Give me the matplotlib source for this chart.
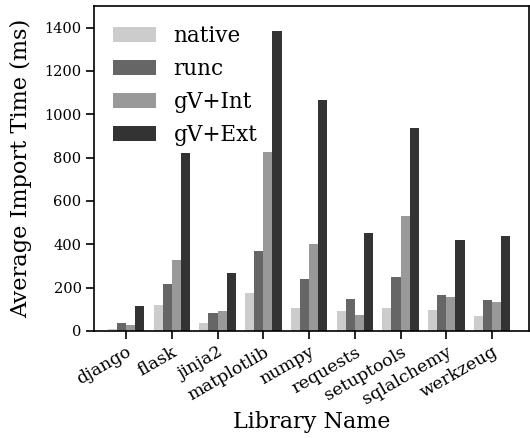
import matplotlib
matplotlib.use("Agg")
import matplotlib.pyplot as plt
import numpy as np

libraries = ["django", "flask", "jinja2", "matplotlib", "numpy",
             "requests", "setuptools", "sqlalchemy", "werkzeug"]
series_names = ["native", "runc", "gV+Int", "gV+Ext"]
native = [9, 120, 37, 176, 107, 93, 107, 97, 70]
runc = [37, 218, 83, 371, 241, 148, 250, 167, 144]
gv_int = [28, 329, 93, 825, 403, 74, 533, 158, 134]
gv_ext = [116, 820, 269, 1386, 1066, 454, 936, 422, 440]
colors = ["#cccccc", "#666666", "#999999", "#333333"]
yticks = [0, 200, 400, 600, 800, 1000, 1200, 1400]

plt.rcParams['font.family'] = ['DejaVu Serif']

fig = plt.figure(figsize=(5.3, 4.38), dpi=100)
ax = fig.add_axes([0.1774, 0.2443, 0.8201, 0.742])

x = np.arange(len(libraries))
w = 0.2
for i, (vals, name, c) in enumerate(zip([native, runc, gv_int, gv_ext], series_names, colors)):
    ax.bar(x + (i - 1.5) * w, vals, width=w, color=c, label=name, linewidth=0)

ax.set_xlim(-0.7, 8.8)
ax.set_ylim(0, 1500)
ax.set_yticks(yticks)
ax.set_yticklabels([str(v) for v in yticks], fontsize=10.5)
ax.set_xticks(x)
ax.set_xticklabels(libraries, rotation=30, ha="right", rotation_mode="anchor", fontsize=12.6)
ax.tick_params(direction="out", length=5.5, width=1.2)
for s in ax.spines.values():
    s.set_linewidth(1.2)
ax.set_xlabel("Library Name", fontsize=16, labelpad=2)
ax.set_ylabel("Average Import Time (ms)", fontsize=16.2, labelpad=9)
ax.legend(frameon=False, fontsize=15.5, loc="upper left", bbox_to_anchor=(0.0, 1.0))

fig.savefig("out.png", dpi=100)
